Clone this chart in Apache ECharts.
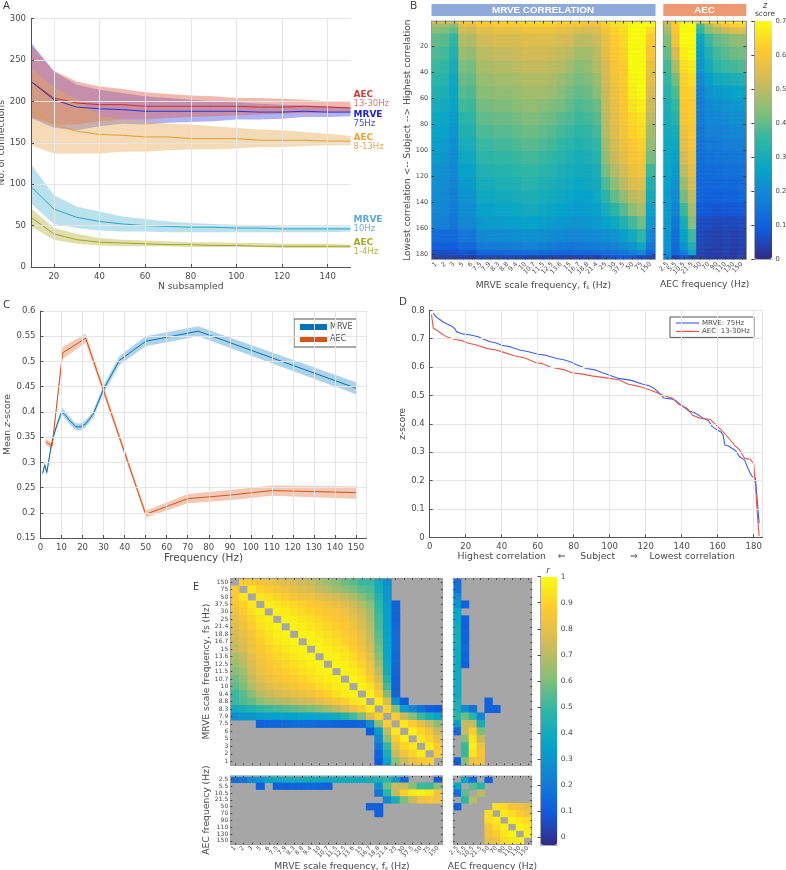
<!DOCTYPE html>
<html><head><meta charset="utf-8">
<style>html,body{margin:0;padding:0;background:#fff}#c{width:786px;height:870px}</style>
<script src="https://cdn.jsdelivr.net/npm/echarts@6/dist/echarts.min.js"></script>
</head><body><div id="c"></div>
<script>
// ---------- data ----------
const nSub=[10,20,30,40,50,60,70,80,90,100,110,120,130,140,150];
const aBetaMean=[224,204,198,196,196,194,194,194,194,194,193,193,194,193,192];
const aBetaHi=[268,237,224,218,215,211,209,207,206,204,204,203,202,200,199];
const aBetaLo=[181,172,172,176,178,178,180,181,182,183,184,185,186,186,187];
const m75Mean=[224,202,193,191,190,188,188,188,188,188,187,187,188,187,187];
const m75Hi=[271,236,220,214,210,206,204,202,200,199,197,196,195,194,193];
const m75Lo=[180,168,165,170,173,172,174,175,176,178,178,179,181,181,182];
const aAlphaMean=[192,172,164,160,159,157,157,155,155,155,153,153,153,152,152];
const aAlphaHi=[240,217,203,183,178,176,173,172,170,168,166,165,163,161,158];
const aAlphaLo=[147,137,137,137,139,139,141,142,142,143,145,145,146,147,147];
const m10Mean=[97,70,60,55,52,50,49,48,48,47,47,46,46,46,46];
const m10Hi=[124,87,73,67,61,58,55,53,52,51,50,49,49,49,49];
const m10Lo=[77,52,47,44,43,43,42,42,42,42,42,42,42,42,43];
const aDeltaMean=[60,40,33,30,29,28,27,27,26,26,25,25,25,25,25];
const aDeltaHi=[71,47,40,35,33,32,31,30,30,29,29,28,28,28,27];
const aDeltaLo=[49,33,28,26,25,25,25,24,24,24,24,23,23,23,23];

const mrveFreq=[1,2,3,5,6,7.5,7.9,8.3,8.8,9.4,10,10.7,11.5,12.5,13.6,15,16.7,18.8,21.4,25,30,37.5,50,75,150];
const aecFreq=[2.5,5.5,10.5,21.5,50,70,90,110,130,150];
const cMrveMean=[.278,.295,.28,.33,.35,.37,.375,.38,.385,.393,.40,.40,.395,.39,.384,.378,.371,.37,.376,.395,.445,.502,.54,.56,.447];
const cMrveErr=[.006,.006,.006,.006,.006,.006,.006,.006,.006,.007,.007,.007,.007,.007,.007,.007,.007,.007,.007,.007,.008,.009,.01,.01,.012];
const cAecMean=[.341,.332,.517,.546,.197,.228,.235,.244,.242,.24];
const cAecErr=[.006,.006,.012,.009,.007,.009,.01,.01,.011,.012];

const dMrve=[[2,.79],[3,.78],[5,.77],[8,.757],[12,.745],[14,.735],[15,.724],[18,.717],[22,.714],[27,.707],[30,.698],[33,.69],[37,.685],[40,.677],[45,.671],[50,.66],[55,.654],[60,.645],[65,.641],[70,.631],[75,.625],[78,.619],[82,.607],[87,.595],[92,.59],[96,.58],[100,.571],[105,.56],[112,.553],[118,.54],[122,.534],[125,.523],[128,.505],[130,.491],[135,.487],[137,.48],[140,.465],[144,.445],[147,.44],[152,.42],[155,.41],[157,.39],[160,.377],[162,.37],[163,.36],[164,.325],[166,.322],[170,.305],[172,.285],[175,.272],[177,.24],[179,.215],[181,.208],[183,.05]];
const dAec=[[1,.785],[2,.737],[4,.73],[6,.72],[9,.708],[14,.697],[18,.693],[21,.685],[26,.678],[32,.665],[37,.66],[42,.65],[47,.64],[53,.632],[59,.615],[62,.613],[67,.6],[75,.59],[79,.58],[85,.575],[90,.569],[98,.562],[105,.555],[110,.54],[116,.532],[122,.52],[126,.51],[130,.5],[135,.49],[138,.47],[143,.455],[146,.43],[150,.42],[156,.415],[160,.39],[164,.365],[166,.35],[170,.32],[172,.31],[175,.278],[178,.275],[180,.26],[181,.18],[182,.08],[183,.005]];

const subjectBandEnds=[2,5,10,20,30,40,50,60,70,80,90,100,110,120,130,140,150,160,170,176,180,183];
const bMrve=[
[.58,.58,.58,.64,.64,.65,.65,.65,.66,.66,.67,.67,.67,.67,.66,.66,.65,.64,.63,.66,.68,.68,.70,.70,.70],
[.47,.47,.44,.57,.56,.60,.60,.61,.61,.61,.62,.62,.62,.62,.61,.60,.59,.58,.58,.62,.65,.66,.70,.70,.69],
[.44,.43,.40,.53,.52,.56,.56,.57,.57,.57,.58,.58,.58,.58,.57,.56,.54,.54,.55,.59,.63,.65,.70,.70,.65],
[.40,.39,.345,.49,.48,.53,.53,.54,.54,.54,.55,.55,.55,.55,.54,.53,.50,.50,.52,.57,.62,.64,.70,.70,.62],
[.38,.37,.32,.46,.45,.50,.50,.51,.51,.52,.53,.53,.53,.52,.51,.50,.47,.47,.50,.56,.61,.63,.70,.70,.60],
[.36,.35,.30,.43,.42,.48,.48,.49,.49,.50,.51,.51,.51,.50,.49,.47,.44,.45,.49,.54,.60,.62,.70,.70,.58],
[.34,.33,.28,.41,.40,.46,.46,.47,.47,.48,.49,.49,.49,.48,.46,.44,.42,.43,.46,.53,.59,.62,.69,.70,.56],
[.32,.31,.27,.39,.38,.44,.44,.45,.45,.46,.47,.47,.47,.46,.44,.42,.40,.41,.44,.52,.58,.61,.68,.70,.54],
[.30,.29,.26,.37,.36,.42,.42,.43,.43,.44,.45,.45,.44,.43,.42,.40,.38,.39,.41,.51,.57,.61,.66,.68,.52],
[.28,.27,.24,.34,.34,.40,.40,.41,.41,.42,.43,.43,.42,.41,.39,.38,.36,.37,.39,.50,.56,.60,.64,.66,.50],
[.265,.26,.225,.32,.32,.38,.38,.39,.39,.40,.41,.41,.40,.39,.37,.36,.34,.35,.37,.49,.55,.59,.63,.65,.47],
[.25,.245,.21,.30,.30,.36,.36,.37,.37,.38,.39,.39,.38,.37,.35,.34,.32,.33,.35,.47,.54,.58,.61,.63,.45],
[.24,.23,.20,.28,.28,.34,.34,.35,.35,.36,.37,.37,.36,.35,.33,.32,.30,.31,.33,.45,.52,.56,.60,.61,.42],
[.22,.215,.19,.26,.26,.32,.32,.33,.33,.34,.35,.35,.34,.33,.31,.30,.29,.29,.31,.42,.49,.53,.58,.59,.36],
[.21,.205,.18,.24,.24,.30,.30,.31,.31,.32,.33,.33,.32,.31,.295,.285,.27,.28,.29,.38,.45,.50,.55,.56,.32],
[.20,.195,.17,.22,.22,.28,.28,.29,.29,.30,.31,.31,.30,.29,.28,.27,.26,.26,.28,.34,.40,.45,.50,.52,.29],
[.19,.185,.16,.205,.205,.26,.26,.27,.27,.28,.29,.29,.28,.27,.26,.255,.24,.25,.26,.30,.34,.39,.44,.48,.26],
[.18,.17,.15,.19,.19,.235,.24,.245,.25,.25,.26,.26,.25,.24,.235,.23,.22,.23,.24,.26,.28,.32,.37,.42,.23],
[.13,.12,.12,.155,.15,.195,.2,.2,.205,.21,.215,.215,.21,.2,.195,.19,.19,.195,.2,.21,.22,.25,.29,.35,.19],
[.10,.095,.09,.12,.115,.155,.16,.16,.165,.17,.175,.175,.17,.16,.155,.15,.155,.16,.165,.17,.18,.20,.23,.28,.15],
[.06,.06,.065,.08,.07,.11,.11,.115,.12,.12,.125,.125,.12,.115,.11,.11,.115,.115,.125,.13,.14,.15,.17,.20,.11],
[.04,.04,.04,.04,.03,.05,.05,.05,.05,.05,.045,.04,.045,.04,.04,.04,.04,.05,.04,.07,.08,.09,.08,.06,.05]];
const bAec=[
[.55,.63,.70,.70,.65,.66,.67,.68,.69,.70],
[.50,.62,.70,.70,.38,.48,.55,.60,.62,.63],
[.47,.61,.70,.70,.35,.44,.48,.52,.55,.56],
[.43,.59,.70,.70,.27,.36,.40,.42,.44,.45],
[.40,.54,.68,.70,.25,.32,.37,.39,.41,.42],
[.37,.48,.65,.67,.23,.29,.34,.36,.37,.38],
[.35,.42,.63,.65,.20,.25,.29,.30,.31,.32],
[.33,.38,.62,.63,.17,.22,.24,.25,.26,.27],
[.31,.35,.61,.62,.165,.20,.21,.22,.23,.24],
[.30,.33,.60,.62,.16,.19,.19,.20,.21,.21],
[.29,.30,.58,.61,.15,.175,.175,.18,.19,.19],
[.28,.28,.56,.60,.14,.16,.16,.165,.17,.17],
[.275,.26,.53,.585,.13,.145,.145,.15,.15,.155],
[.27,.24,.50,.57,.12,.13,.13,.135,.135,.14],
[.26,.22,.46,.54,.115,.115,.115,.12,.12,.125],
[.25,.20,.42,.51,.11,.10,.10,.105,.105,.11],
[.245,.18,.36,.48,.085,.08,.075,.08,.08,.085],
[.24,.15,.30,.44,.06,.06,.05,.055,.055,.06],
[.23,.13,.26,.37,.055,.045,.04,.045,.04,.045],
[.22,.12,.22,.32,.05,.04,.035,.04,.035,.04],
[.21,.11,.16,.27,.045,.035,.035,.04,.03,.04],
[.18,.04,.08,.05,.04,.03,.03,.03,.03,.04]];

// upper triangle of the MRVE x MRVE correlation (row i, columns i+1 ...); _ = not significant
const _=null;
const eMrve=[
[.88,.87,.85,.83,.80,.78,.76,.74,.72,.68,.65,.62,.58,.55,.50,.50,.40,.28,_,_,_,_,_,_],
[.95,.90,.88,.85,.83,.80,.78,.76,.72,.70,.66,.63,.60,.55,.53,.42,.30,_,_,_,_,_,_],
[.95,.93,.90,.88,.85,.83,.82,.79,.77,.75,.72,.68,.62,.57,.45,.31,_,_,_,_,_,_],
[.97,.95,.93,.91,.89,.87,.85,.83,.81,.78,.74,.69,.62,.48,.33,.12,_,_,_,_,_],
[.97,.96,.94,.92,.90,.88,.86,.85,.82,.78,.73,.66,.50,.34,.13,_,_,_,_,_],
[.98,.97,.95,.93,.91,.89,.87,.85,.81,.76,.68,.52,.34,.13,_,_,_,_,_],
[.98,.97,.95,.93,.91,.89,.87,.83,.78,.70,.53,.35,.14,_,_,_,_,_],
[.98,.97,.95,.93,.91,.88,.85,.80,.72,.55,.35,.15,_,_,_,_,_],
[.98,.97,.95,.93,.90,.87,.82,.74,.57,.36,.15,_,_,_,_,_],
[.98,.97,.95,.93,.89,.84,.76,.59,.36,.15,_,_,_,_,_],
[.98,.97,.95,.92,.87,.79,.62,.37,.14,_,_,_,_,_],
[.98,.97,.94,.90,.82,.66,.38,.14,_,_,_,_,_],
[.98,.96,.93,.85,.71,.40,.13,_,_,_,_,_],
[.98,.96,.89,.76,.45,.12,_,_,_,_,_],
[.98,.94,.82,.52,.12,_,_,_,_,_],
[.97,.88,.60,.13,_,_,_,_,_],
[.96,.77,.28,.10,_,_,_,_],
[.90,.62,.33,.25,.18,.12,.10],
[.88,.72,.62,.50,.42,.36],
[.95,.88,.80,.72,.62],
[.97,.90,.83,.72],
[.95,.90,.80],
[.96,.86],
[.89]];
// MRVE (rows) x AEC (columns)
const eCross=[
[.16,_,_,_,_,_,_,_,_,_],[.18,_,_,_,_,_,_,_,_,_],[.26,_,_,_,_,_,_,_,_,_],[.30,.12,_,_,_,_,_,_,_,_],
[.36,_,_,_,_,_,_,_,_,_],[.38,.12,_,_,_,_,_,_,_,_],[.40,.12,_,_,_,_,_,_,_,_],[.41,.13,_,_,_,_,_,_,_,_],
[.41,.13,_,_,_,_,_,_,_,_],[.40,.14,_,_,_,_,_,_,_,_],[.40,.13,_,_,_,_,_,_,_,_],[.39,.12,_,_,_,_,_,_,_,_],
[.39,_,_,_,_,_,_,_,_,_],[.39,_,_,_,_,_,_,_,_,_],[.39,_,_,_,_,_,_,_,_,_],[.39,_,_,_,_,_,_,_,_,_],
[.42,_,_,_,.12,_,_,_,_,_],[.44,.28,.18,_,.12,.12,_,_,_,_],[.47,.58,.47,.25,_,_,_,_,_,_],[.33,.72,.72,.42,_,_,_,_,_,_],
[.14,.72,.88,.60,_,_,_,_,_,_],[_,.62,.95,.72,_,_,_,_,_,_],[_,.50,.97,.82,_,_,_,_,_,_],[_,.50,.95,.85,_,_,_,_,_,_],[.10,.62,.82,.83,_,_,_,_,_,_]];
// upper triangle of AEC x AEC
const eAec=[
[.36,.16,_,.12,_,_,_,_,_],
[.55,.47,_,_,_,_,_,_],
[.70,_,_,_,_,_,_],
[_,_,_,_,_,_],
[.93,.92,.85,.83,.80],
[.96,.92,.88,.83],
[.97,.95,.92],
[.98,.95],
[.97]];
const parula=["#352a87","#0f5cdd","#1481d6","#06a4ca","#2eb7a4","#87bf77","#d1bb59","#fec832","#f9fb0e"];

// ---------- helpers ----------
const FONT='"DejaVu Sans"', TXT='#4a4a4a', AX='#555555', GRID='#e6e6e6';
const cats=a=>a.map(String);
const grids=[],xAxes=[],yAxes=[],series=[];
function addGrid(g){grids.push(Object.assign({outerBoundsMode:'none',containLabel:false},g));return grids.length-1;}
function rich(fs){return {a:{fontFamily:FONT,fontSize:fs,color:TXT},i:{fontFamily:FONT,fontSize:fs,fontStyle:'italic',color:TXT},s:{fontFamily:FONT,fontSize:fs*0.62,color:TXT,padding:[4,0,0,0]}};}
function valAxis(gi,o){
  return Object.assign({type:'value',gridIndex:gi,z:5,
    axisLine:{show:true,onZero:false,lineStyle:{color:AX,width:1}},
    axisTick:{show:true,inside:true,length:3,lineStyle:{color:AX}},
    axisLabel:{color:TXT,fontFamily:FONT,fontSize:o.fs||8.5,margin:o.margin||5,hideOverlap:false},
    splitLine:{show:true,lineStyle:{color:GRID,width:1}},
    nameLocation:'middle',nameTextStyle:{color:TXT,fontFamily:FONT,fontSize:o.nfs||9.2,rich:rich(o.nfs||9.2)}},o.opt);
}
function lineSeries(name,x,y,color,gi,w){
  return {type:'line',name,xAxisIndex:gi,yAxisIndex:gi,data:x.map((v,i)=>[v,y[i]]),symbol:'none',showSymbol:false,
    lineStyle:{color,width:w||1},itemStyle:{color},z:4,silent:true};
}
function band(x,lo,hi,color,alpha,gi,name){
  return {type:'custom',name:name||'band',coordinateSystem:'cartesian2d',xAxisIndex:gi,yAxisIndex:gi,silent:true,z:3,
    itemStyle:{color},
    data:x.map((v,i)=>[v,lo[i],hi[i]]),encode:{x:0,y:[1,2]},
    renderItem:(p,api)=>{
      if(p.dataIndex!==0)return null;
      const pts=[];
      x.forEach((v,i)=>pts.push(api.coord([v,hi[i]])));
      for(let i=x.length-1;i>=0;i--)pts.push(api.coord([x[i],lo[i]]));
      return {type:'polygon',shape:{points:pts},style:{fill:color,opacity:alpha}};
    }};
}
function heat(gi,xLab,yLab,o){
  const tickCol='#3a3a3a',lineCol='#9a9a9a';
  const base={gridIndex:gi,z:5,axisLine:{show:true,onZero:false,lineStyle:{color:lineCol}},splitLine:{show:false}};
  const tickInt=o.yInterval===undefined?0:o.yInterval;
  const tick=(int)=>({show:true,inside:true,length:o.tick||2.5,alignWithLabel:true,interval:int,lineStyle:{color:tickCol}});
  const xi=xAxes.length;
  const nameStyle=(extra)=>Object.assign({color:TXT,fontFamily:FONT,fontSize:o.nfs,rich:rich(o.nfs)},extra||{});
  xAxes.push(Object.assign({},base,{type:'category',data:xLab,position:'bottom',axisTick:tick(0),
    axisLabel:o.xLabel===false?{show:false}:{show:true,interval:0,rotate:45,fontSize:o.xfs||6.3,color:TXT,fontFamily:FONT,margin:o.xm||4},
    name:o.xName||'',nameLocation:'middle',nameGap:o.xGap||21,nameTextStyle:nameStyle(o.xNameStyle)}));
  xAxes.push(Object.assign({},base,{type:'category',data:xLab,position:'top',axisTick:tick(0),axisLabel:{show:false}}));
  yAxes.push(Object.assign({},base,{type:'category',data:yLab,inverse:true,position:'left',axisTick:tick(tickInt),
    axisLabel:o.yLabel===false?{show:false}:{show:true,interval:tickInt,fontSize:o.yfs||6,color:TXT,fontFamily:FONT,margin:o.ym||3},
    name:o.yName||'',nameLocation:'middle',nameGap:o.yGap||26,nameRotate:90,nameTextStyle:nameStyle(o.yNameStyle)}));
  yAxes.push(Object.assign({},base,{type:'category',data:yLab,inverse:true,position:'right',axisTick:tick(tickInt),axisLabel:{show:false}}));
  const data=[];
  o.cell((c,r,v)=>{if(v!==null&&v!==undefined)data.push([c,r,v]);});
  series.push({type:'heatmap',xAxisIndex:xi,yAxisIndex:xi,data,progressive:0,silent:true,z:2,itemStyle:{borderWidth:0},emphasis:{disabled:true}});
  return series.length-1;
}
function colorbar(gi,min,max,ticks,fs){
  xAxes.push({type:'value',gridIndex:gi,min:0,max:1,z:5,axisLine:{show:true,onZero:false,lineStyle:{color:'#aaa'}},axisTick:{show:false},axisLabel:{show:false},splitLine:{show:false}});
  yAxes.push({type:'value',gridIndex:gi,min,max,position:'right',z:5,
    axisLine:{show:true,lineStyle:{color:'#aaa'}},splitLine:{show:false},
    axisTick:{show:true,inside:true,length:3,customValues:ticks,lineStyle:{color:'#444'}},
    axisLabel:{show:true,customValues:ticks,color:TXT,fontFamily:FONT,fontSize:fs,margin:3.5,formatter:v=>String(v)}});
}

// ---------- panel A ----------
let gi=addGrid({left:31,top:18.5,width:319.5,height:248.5});
const aTicks=[20,40,60,80,100,120,140];
xAxes.push(valAxis(gi,{opt:{min:10,max:150,name:'N subsampled',nameGap:15,
  axisTick:{show:true,inside:true,length:3,customValues:aTicks,lineStyle:{color:AX}},
  axisLabel:{color:TXT,fontFamily:FONT,fontSize:8.5,margin:5,customValues:aTicks}}}));
yAxes.push(valAxis(gi,{opt:{min:0,max:300,interval:50,name:'No. of connections',nameGap:15}}));
series.push(band(nSub,m75Lo,m75Hi,'#4f55e6',.45,gi));
series.push(band(nSub,aBetaLo,aBetaHi,'#e0614f',.45,gi));
series.push(band(nSub,aAlphaLo,aAlphaHi,'#e8a94e',.42,gi));
series.push(band(nSub,m10Lo,m10Hi,'#57b8d6',.42,gi));
series.push(band(nSub,aDeltaLo,aDeltaHi,'#b0b030',.4,gi));
series.push(lineSeries('AEC 13-30Hz',nSub,aBetaMean,'#c9302c',gi));
series.push(lineSeries('MRVE 75Hz',nSub,m75Mean,'#2a35d8',gi));
series.push(lineSeries('AEC 8-13Hz',nSub,aAlphaMean,'#e0a030',gi));
series.push(lineSeries('MRVE 10Hz',nSub,m10Mean,'#2ca8cc',gi));
series.push(lineSeries('AEC 1-4Hz',nSub,aDeltaMean,'#a3a41e',gi));

// ---------- panel C ----------
gi=addGrid({left:40.5,top:311,width:326,height:227});
xAxes.push(valAxis(gi,{nfs:10.5,opt:{min:0,max:155,interval:10,name:'Frequency (Hz)',nameGap:15}}));
yAxes.push(valAxis(gi,{nfs:9.2,opt:{min:.15,max:.6,interval:.05,name:'{a|Mean }{i|z}{a|-score}',nameGap:28}}));
series.push(band(mrveFreq,cMrveMean.map((v,i)=>v-cMrveErr[i]),cMrveMean.map((v,i)=>v+cMrveErr[i]),'#0072bd',.32,gi,'MRVE'));
series.push(band(aecFreq,cAecMean.map((v,i)=>v-cAecErr[i]),cAecMean.map((v,i)=>v+cAecErr[i]),'#d95319',.32,gi,'AEC'));
series.push(lineSeries('MRVE',mrveFreq,cMrveMean,'#0072bd',gi));
series.push(lineSeries('AEC',aecFreq,cAecMean,'#d95319',gi));

// ---------- panel D ----------
gi=addGrid({left:429.7,top:310.3,width:333,height:227});
xAxes.push(valAxis(gi,{nfs:9.3,opt:{min:0,max:185,interval:20,nameGap:15,
  name:'Highest correlation    ⇐     Subject     ⇒    Lowest correlation'}}));
yAxes.push(valAxis(gi,{nfs:8.9,opt:{min:0,max:.8,interval:.1,name:'z-score',nameGap:15}}));
series.push(lineSeries('MRVE: 75Hz',dMrve.map(d=>d[0]),dMrve.map(d=>d[1]),'#3f5ff0',gi,1.1));
series.push(lineSeries('AEC: 13-30Hz',dAec.map(d=>d[0]),dAec.map(d=>d[1]),'#e2574c',gi,1.1));

// ---------- panel B heatmaps ----------
const subjects=[];for(let s=1;s<=183;s++)subjects.push(String(s));
const bandOf=s=>subjectBandEnds.findIndex(e=>s<=e);
const every20=(i)=>(i+1)%20===0;
const bSeries=[];
gi=addGrid({left:431.7,top:21,width:223.3,height:238.3,show:true,backgroundColor:'#999'});
bSeries.push(heat(gi,cats(mrveFreq),subjects,{yInterval:every20,nfs:9.2,yfs:6.5,ym:3.5,xGap:21,yGap:8,tick:2.5,
  xName:'{a|MRVE scale frequency, f}{s|s}{a| (Hz)}',
  yName:'Lowest correlation <-- Subject --> Highest correlation',yNameStyle:{fontSize:9},
  cell:f=>{for(let s=1;s<=183;s++)bMrve[bandOf(s)].forEach((v,c)=>f(c,s-1,v));}}));
gi=addGrid({left:663.3,top:21,width:82.7,height:238.3,show:true,backgroundColor:'#999'});
bSeries.push(heat(gi,cats(aecFreq),subjects,{yInterval:every20,yLabel:false,nfs:9.2,xGap:21,tick:2.5,
  xName:'AEC frequency (Hz)',
  cell:f=>{for(let s=1;s<=183;s++)bAec[bandOf(s)].forEach((v,c)=>f(c,s-1,v));}}));

// ---------- panel E heatmaps ----------
const yMrve=cats(mrveFreq.slice().reverse()), xMrve=cats(mrveFreq), aecCats=cats(aecFreq);
const eS=[];
gi=addGrid({left:230.7,top:578.3,width:211.6,height:186.7,show:true,backgroundColor:'#a6a6a6'});
eS.push(heat(gi,xMrve,yMrve,{xLabel:false,ym:2.5,nfs:9.1,yGap:8,tick:1.5,
  yName:'MRVE scale frequency, fs (Hz)',
  cell:f=>eMrve.forEach((row,r)=>row.forEach((v,k)=>{f(r+1+k,r,v);f(r,r+1+k,v);}))}));
gi=addGrid({left:453.3,top:578.3,width:78.4,height:186.7,show:true,backgroundColor:'#a6a6a6'});
eS.push(heat(gi,aecCats,yMrve,{xLabel:false,yLabel:false,nfs:9.1,tick:1.5,
  cell:f=>eCross.forEach((row,r)=>row.forEach((v,c)=>f(c,r,v)))}));
gi=addGrid({left:230.7,top:776,width:211.6,height:68.3,show:true,backgroundColor:'#a6a6a6'});
eS.push(heat(gi,xMrve,aecCats,{xfs:6,ym:2.5,xm:3,nfs:9.2,yGap:8,xGap:15,tick:1.5,
  yName:'AEC frequency (Hz)',xNameStyle:{padding:[0,0,0,11]},
  xName:'{a|MRVE scale frequency, f}{s|s}{a| (Hz)}',
  cell:f=>eCross.forEach((row,r)=>row.forEach((v,c)=>f(r,c,v)))}));
gi=addGrid({left:453.3,top:776,width:78.4,height:68.3,show:true,backgroundColor:'#a6a6a6'});
eS.push(heat(gi,aecCats,aecCats,{yLabel:false,xfs:6,xm:3,nfs:9.2,xGap:15,tick:1.5,
  xName:'AEC frequency (Hz)',
  cell:f=>eAec.forEach((row,r)=>row.forEach((v,k)=>{f(r+1+k,r,v);f(r,r+1+k,v);}))}));

// ---------- colour bars ----------
gi=addGrid({left:754.3,top:21,width:17.7,height:238});
colorbar(gi,0,.7,[0,.1,.2,.3,.4,.5,.6,.7],6.8);
gi=addGrid({left:540.7,top:576.7,width:16.6,height:268.3});
colorbar(gi,-.03,1,[0,.1,.2,.3,.4,.5,.6,.7,.8,.9,1],7.5);

const text=(x,y,s,o)=>({type:'text',x,y,silent:true,style:Object.assign({text:s,fill:TXT,fontFamily:FONT,fontSize:9.5,align:'left',verticalAlign:'middle'},o||{})});
const sideLabel=(x,y,s,c,b)=>text(x,y,s,{fill:c,fontSize:b?9:8.5,fontWeight:b?'bold':'normal'});
const letter={fontFamily:'"Open Sans"',fontSize:11,fill:'#333'};
const graphic=[
  text(3,6,'A',letter),text(410,6,'B',letter),text(3,305,'C',letter),text(399,302,'D',letter),text(193,587,'E',letter),
  {type:'rect',shape:{x:431.5,y:4,width:224,height:12},style:{fill:'#8eaadb'},silent:true},
  {type:'rect',shape:{x:663.3,y:4,width:83,height:12},style:{fill:'#ee9a70'},silent:true},
  text(543,10,'MRVE CORRELATION',{fill:'#fff',fontWeight:'bold',fontSize:9.8,align:'center',fontFamily:'"Liberation Sans"'}),
  text(704.5,10,'AEC',{fill:'#fff',fontWeight:'bold',fontSize:9.8,align:'center',fontFamily:'"Liberation Sans"'}),
  text(765,6,'z',{fontStyle:'italic',align:'center',fontSize:8}),
  text(765,14,'score',{align:'center',fontSize:7.5}),
  text(548,571,'r',{fontStyle:'italic',align:'center',fontSize:9}),
  sideLabel(353.5,94.7,'AEC','#c8403f',1),sideLabel(353.5,103.7,'13-30Hz','#e07a6e'),
  sideLabel(353.5,114.3,'MRVE','#2020d8',1),sideLabel(353.5,123.3,'75Hz','#4a4ae0'),
  sideLabel(353.5,137.3,'AEC','#e8a33d',1),sideLabel(353.5,146.7,'8-13Hz','#e3a857'),
  sideLabel(353.5,219.3,'MRVE','#5aa8e0',1),sideLabel(353.5,228.7,'10Hz','#6cb2e6'),
  sideLabel(353.5,242.3,'AEC','#a8a820',1),sideLabel(353.5,251.7,'1-4Hz','#b5b548')
];

const thinMark='path://M0,0L20,0L20,1L0,1Z';
const chart=echarts.init(document.getElementById('c'),null,{renderer:'canvas'});
chart.setOption({
  animation:false,backgroundColor:'#fff',textStyle:{fontFamily:FONT},
  grid:grids,xAxis:xAxes,yAxis:yAxes,series,graphic,
  legend:[
    {data:['MRVE','AEC'],left:294,top:319,orient:'vertical',icon:'rect',itemWidth:27,itemHeight:6,itemGap:4,padding:[4,4,4,6],
      backgroundColor:'#fff',borderColor:'#555',borderWidth:1,selectedMode:false,textStyle:{fontFamily:FONT,fontSize:8,color:TXT,padding:[0,0,0,-2]}},
    {data:['MRVE: 75Hz','AEC: 13-30Hz'],left:670,top:317,orient:'vertical',icon:thinMark,itemWidth:23,itemHeight:8,itemGap:1.4,padding:[2.5,4,2.5,6],lineStyle:{width:1.3},
      backgroundColor:'#fff',borderColor:'#555',borderWidth:1,selectedMode:false,textStyle:{fontFamily:FONT,fontSize:7,color:TXT,padding:[0,0,0,-2]}}
  ],
  visualMap:[
    {type:'continuous',seriesIndex:bSeries,min:0,max:.7,inRange:{color:parula},left:754.3,top:21,itemWidth:17.7,itemHeight:238,padding:0,text:null,calculable:false,hoverLink:false,textStyle:{fontSize:0}},
    {type:'continuous',seriesIndex:eS,min:-.03,max:1,inRange:{color:parula},left:540.7,top:576.7,itemWidth:16.6,itemHeight:268.3,padding:0,text:null,calculable:false,hoverLink:false,textStyle:{fontSize:0}}
  ]
});
</script></body></html>
